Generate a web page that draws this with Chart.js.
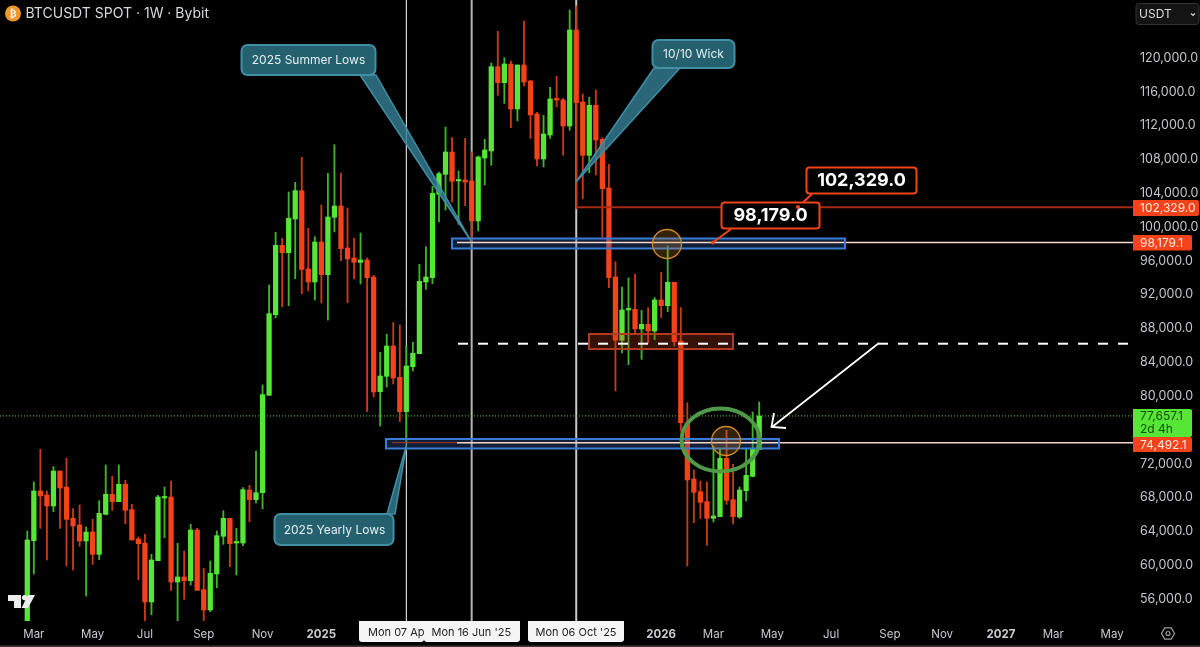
<!DOCTYPE html>
<html>
<head>
<meta charset="utf-8">
<title>BTCUSDT SPOT 1W</title>
<script src="https://cdn.jsdelivr.net/npm/chart.js@4/dist/chart.umd.min.js"></script>
<style>
	html, body { margin: 0; padding: 0; background: #000; overflow: hidden; }
	canvas { display: block; }
</style>
</head>
<body>
<canvas id="btcChart" width="1200" height="647"></canvas>
<script>
// weekly candles (one entry per week, oldest first)
const opens = [52000,62902,68777,68304,67003,71143,69250,65544,64755,62862,63927,61285,66017,68383,67515,69566,66569,63099,62626,55647,60536,67949,68067,58012,58604,58170,64164,57106,54700,58959,63414,65544,62626,62626,68895,67752,68580,80096,89638,97840,96972,100955,104306,95040,93502,98234,94370,101152,102492,97524,96341,95829,96105,94094,80530,82343,85932,82225,78164,83487,85025,93504,94016,103874,106239,108881,105451,105569,105451,100719,108171,109000,118975,117083,119291,113968,119172,117280,113376,108053,110892,115150,115032,111957,123313,114796,108487,114401,110380,104623,94094,86602,90190,90269,87942,88495,87706,91373,90703,93462,86523,76860,70197,68698,67515,65544,65741,72641,67752,65702,68817,70512,73666];
const highs = [64045,69842,73706,68777,71655,71143,72641,66687,67121,64518,65425,67633,71852,70512,71852,70039,67200,63336,63651,61285,68264,69250,69960,62587,61679,64834,64361,59629,60497,64045,66451,65544,64361,69171,69447,73508,81318,93147,99377,98668,104148,105292,108249,99850,98865,102611,106356,109747,106356,102256,98668,99298,96341,94291,85183,87312,88692,88416,85932,86366,95592,97683,104820,106516,111838,110576,106634,110498,108881,108408,110380,119409,123155,120040,119646,119172,124377,117359,113573,113218,116531,117832,115229,125678,126152,115742,115348,116215,110576,107422,95907,92911,93975,94409,90151,90466,91649,94646,97761,93462,90466,79226,71261,69960,69842,74100,73785,75953,71931,69250,73706,78122,79305];
const lows = [51000,58959,64361,60615,66332,64361,59905,59432,62232,56356,60102,60654,65938,66490,67515,64913,62981,58289,53281,54148,60536,63257,57027,53281,55962,57657,57027,53281,54503,57342,62468,59826,58840,62310,65149,67357,66687,80096,89283,90584,90703,93897,92122,92438,91373,91018,88997,99417,96026,91057,93897,93266,78164,79899,76468,81082,81436,76981,74492,82974,85025,92636,93306,100601,102020,102967,100325,102533,98038,99536,104978,107304,115584,114638,111759,112548,116688,110498,107225,107107,110498,114204,108487,111444,102139,103361,106437,106160,98827,92833,80609,85104,83724,87469,84355,86286,86681,89283,89993,85932,75874,59905,65031,65544,62350,65110,65741,67200,64874,65544,67594,70433,73666];
const closes = [62981,68777,68185,67003,71143,69132,65425,64637,62862,63927,61285,66135,68383,67515,69566,66490,62981,62547,55647,60615,68067,68067,58012,58604,58170,64164,57027,54700,59037,63493,65544,62547,62744,68935,67752,68580,80175,89756,97840,96972,101033,104306,94990,93502,98234,94370,101191,102492,97445,96223,95829,96105,94015,80490,82383,85932,82146,78164,83566,85064,93581,94095,103992,106318,108881,105412,105569,105332,100719,108290,109118,118975,117083,119291,113968,119172,117161,113258,108053,111011,115150,115032,111957,123313,114717,108487,114401,110301,104544,94016,86602,90190,90269,87942,88495,87706,91373,90703,93462,86444,76860,70078,68619,67436,65544,65820,72641,67673,65741,68896,70630,73706,77657];

const priceTicks = [56000,60000,64000,68000,72000,76000,80000,84000,88000,92000,96000,100000,104000,108000,112000,116000,120000];
const timeTickWeeks = [1,10,18,27,36,45,97,105,114,123,132,140,149,157,166];
const timeTickLabels = ["Mar","May","Jul","Sep","Nov","2025","2026","Mar","May","Jul","Sep","Nov","2027","Mar","May"];
const yearLabels = ["2025","2026","2027"];

const lastPrice = 77657.1;
const level102 = 102329;
const level98 = 98179.1;
const level74 = 74492.1;
const midLevel = 86200;
const markedWeeks = [58, 68, 84];

const GREEN = "#55e636";
const RED = "#f4431a";
const GREEN_WICK = "#3fb52a";
const RED_WICK = "#c93a18";

function fmt(v) {
	return v.toLocaleString("en-US", { minimumFractionDigits: 1, maximumFractionDigits: 1 });
}

function calloutBox(ctx, x, y, w, h, fill, stroke, lw, r) {
	ctx.beginPath();
	ctx.roundRect(x, y, w, h, r);
	ctx.fillStyle = fill;
	ctx.fill();
	ctx.strokeStyle = stroke;
	ctx.lineWidth = lw;
	ctx.stroke();
}

function tail(ctx, pts, fill, stroke) {
	ctx.beginPath();
	ctx.moveTo(pts[0][0], pts[0][1]);
	for (let i = 1; i < pts.length; i++) ctx.lineTo(pts[i][0], pts[i][1]);
	ctx.closePath();
	ctx.fillStyle = fill;
	ctx.fill();
	ctx.strokeStyle = stroke;
	ctx.lineWidth = 1.5;
	ctx.stroke();
}

function label(ctx, text, x, y, font, color, align) {
	ctx.font = font;
	ctx.fillStyle = color;
	ctx.textAlign = align || "left";
	ctx.textBaseline = "middle";
	ctx.fillText(text, x, y);
}

function priceTag(ctx, yA, h, w, fill, text, color) {
	ctx.beginPath();
	ctx.roundRect(1133, yA, w, h, [0, 2, 2, 0]);
	ctx.fillStyle = fill;
	ctx.fill();
	label(ctx, text, 1140, yA + h / 2 + 0.5, "12px Inter", color);
}

// vertical date markers, they sit behind the candles
const underlay = {
	id: "underlay",
	beforeDatasetsDraw(chart) {
		const { ctx, scales: { x, y } } = chart;
		ctx.save();
		const bottom = y.getPixelForValue(y.min);
		const styles = [["#ffffff", 1], ["#b5b5b5", 2], ["#c8c8c8", 2]];
		markedWeeks.forEach((w, i) => {
			const px = x.getPixelForValue(w);
			ctx.strokeStyle = styles[i][0];
			ctx.lineWidth = styles[i][1];
			ctx.beginPath();
			ctx.moveTo(px, 0);
			ctx.lineTo(px, bottom);
			ctx.stroke();
		});
		// last price dotted line
		const lp = y.getPixelForValue(lastPrice);
		ctx.strokeStyle = "#4fd42a";
		ctx.lineWidth = 1;
		ctx.setLineDash([1, 2]);
		ctx.beginPath();
		ctx.moveTo(0, lp);
		ctx.lineTo(1133, lp);
		ctx.stroke();
		ctx.restore();
	},
};

// all the drawings on top of the chart
const overlay = {
	id: "overlay",
	afterDatasetsDraw(chart) {
		const { ctx, scales: { x, y } } = chart;
		const py = (v) => y.getPixelForValue(v);
		ctx.save();

		// red level from the 10/10 wick
		const redY = py(level102);
		ctx.strokeStyle = "#a52c12";
		ctx.lineWidth = 2;
		ctx.beginPath();
		ctx.moveTo(x.getPixelForValue(84), redY);
		ctx.lineTo(1133, redY);
		ctx.stroke();

		// blue zones
		ctx.lineWidth = 2;
		[[452, 238.5, 393, 10, level98, 457], [386, 439, 393, 9.5, level74, 392]].forEach((z) => {
			ctx.fillStyle = "rgba(50,90,170,0.33)";
			ctx.fillRect(z[0], z[1], z[2], z[3]);
			const ly = py(z[4]);
			ctx.strokeStyle = "#f7d6cc";
			ctx.lineWidth = 1.6;
			ctx.beginPath();
			ctx.moveTo(z[5] === 392 ? 457 : z[5], ly);
			ctx.lineTo(1133, ly);
			ctx.stroke();
			if (z[5] === 392) {
				ctx.strokeStyle = "#a83a2a";
				ctx.lineWidth = 1;
				ctx.beginPath();
				ctx.moveTo(z[5], ly);
				ctx.lineTo(457, ly);
				ctx.stroke();
			}
			ctx.strokeStyle = "#3a7bd5";
			ctx.lineWidth = 2;
			ctx.strokeRect(z[0], z[1], z[2], z[3]);
		});

		// red zone + dashed mid line
		ctx.fillStyle = "rgba(190,60,30,0.28)";
		ctx.fillRect(589, 334, 144, 15);
		ctx.strokeStyle = "#b03a22";
		ctx.lineWidth = 2;
		ctx.strokeRect(589, 334, 144, 15);
		ctx.strokeStyle = "#ffffff";
		ctx.setLineDash([10, 10]);
		ctx.beginPath();
		ctx.moveTo(458, py(midLevel));
		ctx.lineTo(1133, py(midLevel));
		ctx.stroke();
		ctx.setLineDash([]);

		// orange circles
		[[667, 244], [726, 441]].forEach((c) => {
			ctx.beginPath();
			ctx.arc(c[0], c[1], 14.5, 0, Math.PI * 2);
			ctx.fillStyle = "rgba(205,135,40,0.25)";
			ctx.fill();
			ctx.strokeStyle = "#d0892a";
			ctx.lineWidth = 1.3;
			ctx.stroke();
		});

		// green ellipse
		ctx.beginPath();
		ctx.ellipse(720.5, 440, 39, 31.5, 0, 0, Math.PI * 2);
		ctx.strokeStyle = "#4f9a48";
		ctx.lineWidth = 4;
		ctx.stroke();

		// white arrow
		ctx.strokeStyle = "#ffffff";
		ctx.lineWidth = 1.8;
		ctx.beginPath();
		ctx.moveTo(879, 343);
		ctx.lineTo(772, 427);
		ctx.moveTo(774, 413);
		ctx.lineTo(771.5, 427);
		ctx.lineTo(786, 428);
		ctx.stroke();

		// teal callouts
		const teal = "#25606f";
		const tealEdge = "#3f8fa5";
		const tealTail = "rgba(52,128,150,0.8)";
		tail(ctx, [[360, 75], [376, 75], [471, 241]], tealTail, tealEdge);
		calloutBox(ctx, 241.5, 45, 134, 30, teal, tealEdge, 2, 6);
		tail(ctx, [[654, 68], [680, 68], [576, 182]], tealTail, tealEdge);
		calloutBox(ctx, 652.5, 40, 82, 28, teal, tealEdge, 2, 6);
		tail(ctx, [[387, 514], [395, 514], [406.5, 445]], tealTail, tealEdge);
		calloutBox(ctx, 274.5, 514, 119, 31, teal, tealEdge, 2, 6);
		label(ctx, "2025 Summer Lows", 308.5, 60.5, "12px Inter", "#e3eef1", "center");
		label(ctx, "10/10 Wick", 693.5, 54.5, "12px Inter", "#e3eef1", "center");
		label(ctx, "2025 Yearly Lows", 334.5, 530, "12px Inter", "#e3eef1", "center");

		// price callouts
		ctx.strokeStyle = RED;
		ctx.lineWidth = 2;
		ctx.beginPath();
		ctx.moveTo(798, 207);
		ctx.lineTo(812, 194);
		ctx.moveTo(713, 242.5);
		ctx.lineTo(731, 229);
		ctx.stroke();
		calloutBox(ctx, 806.5, 167.5, 110, 26, "#000", RED, 2, 3);
		calloutBox(ctx, 721.5, 202.5, 98, 26, "#000", RED, 2, 3);
		[[798, 207], [713, 242.5]].forEach((d) => {
			ctx.beginPath();
			ctx.arc(d[0], d[1], 2, 0, Math.PI * 2);
			ctx.fillStyle = RED;
			ctx.fill();
		});
		label(ctx, fmt(102329), 861.5, 181, "bold 18px Inter", "#fff", "center");
		label(ctx, fmt(98179), 770.5, 216, "bold 18px Inter", "#fff", "center");

		// title with coin badge
		ctx.beginPath();
		ctx.arc(13, 13.5, 8, 0, Math.PI * 2);
		ctx.fillStyle = "#f0952a";
		ctx.fill();
		label(ctx, "₿", 13, 14, "bold 10px 'DejaVu Sans'", "#fff", "center");
		label(ctx, "BTCUSDT SPOT · 1W · Bybit", 25.5, 14, "14px Inter", "#d6d8dc");

		// logo
		ctx.fillStyle = "#ececec";
		ctx.beginPath();
		ctx.moveTo(8, 595); ctx.lineTo(21, 595); ctx.lineTo(21, 608); ctx.lineTo(14, 608); ctx.lineTo(14, 601); ctx.lineTo(8, 601);
		ctx.closePath();
		ctx.fill();
		ctx.beginPath();
		ctx.arc(24.5, 597.5, 2.6, 0, Math.PI * 2);
		ctx.fill();
		ctx.beginPath();
		ctx.moveTo(28, 595); ctx.lineTo(35, 595); ctx.lineTo(28, 608); ctx.lineTo(21.5, 608);
		ctx.closePath();
		ctx.fill();

		// axis tags
		priceTag(ctx, 200, 16, 66, RED, fmt(level102), "#ffe9e2");
		priceTag(ctx, 235, 15.5, 59, RED, fmt(level98), "#ffe9e2");
		ctx.beginPath();
		ctx.roundRect(1133, 409, 59, 28, [0, 2, 2, 0]);
		ctx.fillStyle = GREEN;
		ctx.fill();
		label(ctx, fmt(lastPrice), 1140, 416, "12px Inter", "#1b4a12");
		label(ctx, "2d 4h", 1140, 429, "12px Inter", "#1b4a12");
		priceTag(ctx, 437, 15, 59, RED, fmt(level74), "#ffe9e2");

		// currency selector
		calloutBox(ctx, 1136, 3.5, 63, 21, "#141414", "#333", 1, 3);
		label(ctx, "USDT", 1139, 14.5, "12px Inter", "#dcdcdc");
		ctx.strokeStyle = "#cfcfcf";
		ctx.lineWidth = 1.2;
		ctx.beginPath();
		ctx.moveTo(1191, 13.5);
		ctx.lineTo(1193, 15.5);
		ctx.lineTo(1195, 13.5);
		ctx.stroke();

		// date tags on the time axis
		[[359, 65, "Mon 07 Apr '25", 368], [424, 96, "Mon 16 Jun '25", 431.5], [528, 96, "Mon 06 Oct '25", 535.5]].forEach((t) => {
			ctx.beginPath();
			ctx.roundRect(t[0], 621, t[1], 21, [0, 0, 3, 3]);
			ctx.fillStyle = "#f5f5f5";
			ctx.fill();
			ctx.save();
			ctx.beginPath();
			ctx.rect(t[0], 621, t[1], 21);
			ctx.clip();
			label(ctx, t[2], t[3], 633, "11px Inter", "#1d1d1d");
			ctx.restore();
		});

		// settings hexagon
		ctx.strokeStyle = "#9c9c9c";
		ctx.lineWidth = 1.2;
		ctx.beginPath();
		for (let i = 0; i < 6; i++) {
			const a = (i * Math.PI) / 3;
			const hx = 1168 + 6.5 * Math.cos(a);
			const hy = 633.5 + 6.5 * Math.sin(a);
			if (i === 0) ctx.moveTo(hx, hy);
			else ctx.lineTo(hx, hy);
		}
		ctx.closePath();
		ctx.stroke();
		ctx.beginPath();
		ctx.arc(1168, 633.5, 2, 0, Math.PI * 2);
		ctx.stroke();

		// bottom edge of the window
		ctx.fillStyle = "#3a3a3a";
		ctx.fillRect(0, 645.5, 1200, 1.5);
		ctx.restore();
	},
};

const candleColors = opens.map((o, i) => (closes[i] >= o ? GREEN : RED));
const wickColors = opens.map((o, i) => (closes[i] >= o ? GREEN_WICK : RED_WICK));

const btcChart = new Chart(document.getElementById("btcChart").getContext("2d"), {
	type: "bar",
	data: {
		datasets: [
			{
				label: "Wicks",
				data: opens.map((o, i) => ({ x: i, y: [lows[i], highs[i]] })),
				backgroundColor: wickColors,
				barThickness: 1.2,
				grouped: false,
				order: 2,
			},
			{
				label: "Bodies",
				data: opens.map((o, i) => ({ x: i, y: [o, closes[i]] })),
				backgroundColor: candleColors,
				barThickness: 4.6,
				minBarLength: 1.5,
				grouped: false,
				order: 1,
			},
		],
	},
	options: {
		responsive: false,
		animation: false,
		devicePixelRatio: 1,
		layout: { padding: 0 },
		plugins: { legend: { display: false }, tooltip: { enabled: false } },
		scales: {
			x: {
				type: "linear",
				offset: false,
				min: -4.177,
				max: 169.2,
				grid: { display: false, offset: false, drawTicks: false },
				border: { display: false },
				afterBuildTicks(axis) {
					axis.ticks = timeTickWeeks.map((w) => ({ value: w }));
				},
				afterFit(axis) {
					axis.height = 26;
					axis.paddingLeft = 0;
					axis.paddingRight = 0;
				},
				ticks: {
					autoSkip: false,
					maxRotation: 0,
					padding: 7,
					color: "#c9cbd0",
					font: (c) => ({
						family: "Inter",
						size: 11.5,
						weight: yearLabels.includes(c.tick && c.tick.label) ? "bold" : "normal",
					}),
					callback: (v) => timeTickLabels[timeTickWeeks.indexOf(v)],
				},
			},
			y: {
				position: "right",
				min: 53397,
				max: 126861,
				grid: { display: false, drawTicks: false },
				border: { display: false },
				afterBuildTicks(axis) {
					axis.ticks = priceTicks.map((p) => ({ value: p }));
				},
				afterFit(axis) {
					axis.width = 67;
					axis.paddingTop = 0;
					axis.paddingBottom = 0;
				},
				ticks: {
					autoSkip: false,
					padding: 7,
					crossAlign: "near",
					color: "#c4c6cb",
					font: { family: "Inter", size: 12.5 },
					callback: (v) => fmt(v),
				},
			},
		},
	},
	plugins: [underlay, overlay],
});
</script>
</body>
</html>
